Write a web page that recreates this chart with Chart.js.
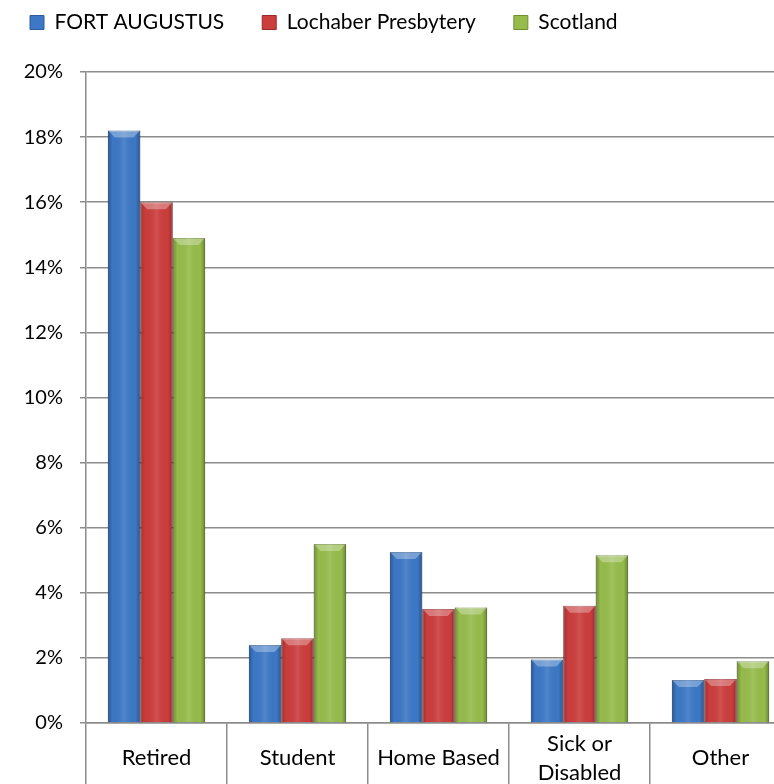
<!DOCTYPE html>
<html>
<head>
<meta charset="utf-8">
<script src="https://cdn.jsdelivr.net/npm/chart.js@4"></script>
<style>
  html, body { margin: 0; padding: 0; background: #fff; overflow: hidden; }
  #wrap { position: relative; width: 792px; height: 784px; }
</style>
</head>
<body>
<div id="wrap"><canvas id="chart"></canvas></div>
<script>
// data
const categories = ['Retired', 'Student', 'Home Based', ['Sick or', 'Disabled'], 'Other'];
const fortAugustus = [18.2, 2.4, 5.25, 1.95, 1.32];
const lochaber = [16.0, 2.6, 3.5, 3.6, 1.35];
const scotland = [14.9, 5.5, 3.55, 5.15, 1.9];

const fontFamily = 'Lato, "Open Sans", sans-serif';

// bevel shading on top of each bar
const bevel = {
    id: 'bevel',
    afterDatasetsDraw(chart) {
        const ctx = chart.ctx;
        chart.data.datasets.forEach((ds, i) => {
            chart.getDatasetMeta(i).data.forEach(bar => {
                const left = bar.x - bar.width / 2;
                const right = bar.x + bar.width / 2;
                const top = bar.y;
                const h = bar.base - bar.y;
                const g = ctx.createLinearGradient(left, 0, right, 0);
                g.addColorStop(0, 'rgba(0,0,0,0.25)');
                g.addColorStop(0.15, 'rgba(0,0,0,0)');
                g.addColorStop(0.5, 'rgba(255,255,255,0.1)');
                g.addColorStop(0.85, 'rgba(0,0,0,0)');
                g.addColorStop(1, 'rgba(0,0,0,0.28)');
                ctx.save();
                ctx.fillStyle = g;
                ctx.fillRect(left, top, bar.width, h);
                // lighter top facet
                const d = Math.min(7, h / 2);
                ctx.fillStyle = 'rgba(255,255,255,0.3)';
                ctx.beginPath();
                ctx.moveTo(left, top);
                ctx.lineTo(right, top);
                ctx.lineTo(right - d, top + d);
                ctx.lineTo(left + d, top + d);
                ctx.closePath();
                ctx.fill();
                ctx.restore();
            });
        });
    }
};

const legendSpace = {
    id: 'legendSpace',
    beforeInit(chart) {
        const fit = chart.legend.fit;
        chart.legend.fit = function () {
            fit.bind(chart.legend)();
            this.height = 98;
        };
    }
};

const ctx = document.getElementById('chart').getContext('2d');
const chart = new Chart(ctx, {
    type: 'bar',
    data: {
        labels: categories,
        datasets: [
            { label: 'FORT AUGUSTUS', data: fortAugustus, backgroundColor: '#3c78c6', borderColor: '#2d5c99', borderWidth: 1 },
            { label: 'Lochaber Presbytery', data: lochaber, backgroundColor: '#cc3d3d', borderColor: '#9a2a2a', borderWidth: 1 },
            { label: 'Scotland', data: scotland, backgroundColor: '#96bc4b', borderColor: '#6f8f33', borderWidth: 1 }
        ]
    },
    options: {
        responsive: true,
        maintainAspectRatio: false,
        animation: false,
        layout: { padding: { left: -8, top: -26, right: 1, bottom: 0 } },
        datasets: { bar: { categoryPercentage: 0.69, barPercentage: 1 } },
        plugins: {
            legend: {
                align: 'start',
                labels: {
                    boxWidth: 14, boxHeight: 14, padding: 38,
                    color: '#000',
                    font: { family: fontFamily, size: 21 }
                }
            },
            tooltip: { enabled: false }
        },
        scales: {
            x: {
                afterFit: s => { s.height = 61; },
                grid: { offset: true, drawOnChartArea: false, tickLength: 61, color: '#8c8c8c', lineWidth: 1.5 },
                border: { color: '#8c8c8c', width: 1.5 },
                ticks: {
                    color: '#000', padding: -40, crossAlign: 'center', maxRotation: 0,
                    font: { family: fontFamily, size: 22, lineHeight: 1.3 }
                }
            },
            y: {
                min: 0, max: 20,
                afterFit: s => { s.width = 94; },
                grid: { color: '#8c8c8c', lineWidth: 1.5, tickLength: 6 },
                border: { color: '#8c8c8c', width: 1.5 },
                ticks: {
                    stepSize: 2, padding: 17, color: '#000',
                    callback: v => v + '%',
                    font: { family: fontFamily, size: 20 }
                }
            }
        }
    },
    plugins: [bevel, legendSpace]
});
</script>
</body>
</html>
